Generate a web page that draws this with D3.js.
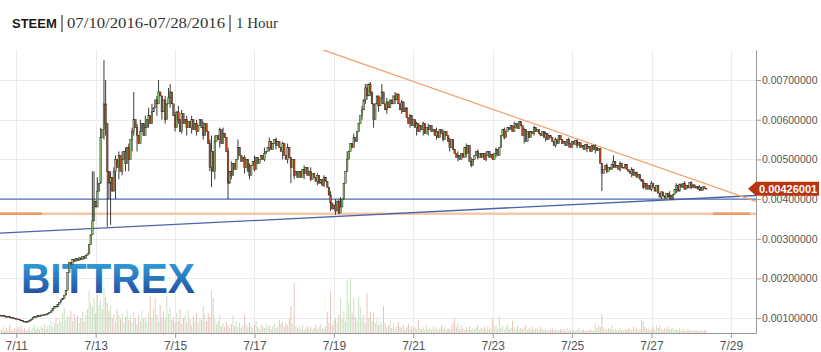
<!DOCTYPE html>
<html>
<head>
<meta charset="utf-8">
<script src="https://cdnjs.cloudflare.com/ajax/libs/d3/7.8.5/d3.min.js"></script>
<style>
body { margin: 0; background: #fff; }
svg { display: block; font-family: Arial, "Liberation Sans", sans-serif; }
</style>
</head>
<body>
<script>
var width = 821;
var height = 352;

// hourly candles, first one at 07/10/2016 14:00, closes in units of 0.00001 BTC
var firstOpen = 108;
var closes = [
    107,105,106,104,103,104,102,101,100,99,98,97,95,94,92,91,
    90,91,94,97,101,104,103,106,105,108,107,110,109,112,114,
    118,124,130,128,135,140,146,150,158,170,
    215,240,236,248,243,250,245,252,247,255,250,258,262,
    285,310,345,395,380,420,440,
    555,575,640,590,470,
    440,455,420,470,500,
    480,510,470,500,520,490,
    530,500,550,570,
    600,580,560,
    540,570,590,560,580,600,
    610,590,620,630,
    650,640,670,660,
    620,650,600,640,
    655,670,640,
    610,580,620,600,570,615,590,600,580,
    595,580,600,575,590,570,585,600,
    580,560,590,570,
    540,480,520,470,545,
    560,550,575,540,565,555,
    520,440,
    470,460,490,475,500,
    530,510,495,
    505,480,500,
    470,460,485,
    495,475,505,490,500,
    510,500,515,520,
    530,545,525,540,550,535,545,530,
    520,540,510,500,530,505,
    480,500,460,470,455,
    470,455,475,465,480,460,470,450,465,
    455,445,460,440,450,435,455,445,430,
    410,390,375,
    385,370,395,365,380,400,
    440,470,500,
    520,540,530,555,545,570,
    590,610,625,
    650,680,660,690,670,640,
    600,640,660,635,655,
    670,640,625,645,630,650,640,
    660,650,665,
    640,625,645,620,630,
    605,590,610,585,600,
    580,590,570,585,575,590,565,580,575,585,570,
    575,560,570,555,575,565,550,570,560,
    545,530,550,525,
    515,505,510,500,515,505,
    530,515,535,
    495,485,500,
    510,520,505,515,
    505,515,500,510,520,505,512,500,
    515,525,510,530,
    560,575,555,570,580,
    575,585,570,580,590,578,
    595,585,
    560,575,545,570,555,
    570,565,580,570,575,565,
    560,570,555,565,550,560,555,
    545,535,550,540,
    560,550,
    540,545,535,550,540,530,545,538,548,535,542,530,
    535,525,538,528,532,520,535,525,530,522,528,
    490,465,
    475,485,470,480,475,488,
    495,480,
    485,475,490,480,478,488,475,
    470,465,475,460,468,455,462,450,
    445,430,440,425,
    435,425,440,430,420,435,
    415,405,418,408,402,415,405,410,400,412,
    425,435,420,438,
    430,440,425,435,428,442,430,436,
    428,432,425,430,422,431,427,426
];

// wicks that reach past the bodies: [candle index, high, low]
var wicks = [
    [56, 470, 340], [57, 470, 380], [59, 455, 380], [61, 580, 440],
    [63, 750, 550], [64, 700, 560], [65, 580, 330], [66, 470, 400],
    [67, 470, 335], [69, 480, 420], [70, 510, 400], [72, 520, 450],
    [74, 520, 460], [76, 530, 470], [78, 540, 470], [80, 580, 520],
    [81, 670, 560], [83, 590, 520], [85, 600, 540], [88, 610, 560],
    [90, 630, 580], [92, 640, 600], [95, 660, 610], [96, 700, 640],
    [98, 660, 600], [100, 660, 590], [102, 680, 640], [103, 690, 630],
    [106, 620, 570], [108, 635, 590], [110, 625, 565], [113, 610, 560],
    [116, 610, 565], [119, 600, 560], [123, 595, 550], [127, 550, 470],
    [128, 560, 430], [130, 560, 450], [133, 580, 530], [135, 580, 540],
    [138, 530, 400], [140, 495, 450], [144, 550, 505], [148, 510, 465],
    [151, 490, 450], [154, 510, 470], [160, 530, 495], [163, 555, 520],
    [167, 555, 525], [171, 545, 500], [174, 540, 490], [176, 505, 440],
    [178, 500, 450], [184, 485, 450], [188, 480, 445], [192, 465, 435],
    [196, 460, 430], [200, 420, 370], [203, 400, 360], [205, 400, 362],
    [206, 405, 365], [210, 520, 470], [214, 565, 530], [219, 635, 600],
    [221, 690, 640], [222, 690, 650], [224, 695, 660], [226, 640, 580],
    [229, 660, 620], [231, 690, 640], [234, 655, 615], [239, 670, 640],
    [243, 650, 615], [248, 615, 580], [252, 595, 560], [256, 595, 560],
    [259, 590, 560], [264, 580, 550], [268, 575, 545], [272, 555, 520],
    [277, 520, 495], [282, 540, 505], [285, 505, 480], [289, 525, 500],
    [294, 520, 495], [300, 530, 505], [305, 580, 550], [311, 595, 570],
    [317, 580, 540], [323, 585, 560], [330, 570, 545], [336, 555, 530],
    [344, 555, 530], [349, 550, 528], [355, 540, 518], [360, 538, 515],
    [364, 490, 420], [367, 490, 465], [371, 510, 478], [375, 495, 470],
    [382, 480, 455], [389, 450, 425], [394, 445, 420], [400, 420, 400],
    [405, 420, 400], [409, 440, 415], [414, 445, 425], [418, 445, 425],
    [423, 435, 420]
];

var volumes = [
    4,3,6,2,5,3,8,4,2,5,3,6,4,7,3,5,2,4,6,3,5,8,4,6,3,7,5,9,4,6,
    8,12,6,10,15,9,14,11,20,25,13,18,16,22,12,19,14,17,10,15,21,12,18,24,
    42,30,26,35,20,38,28,33,24,45,36,30,
    22,27,15,19,12,24,18,14,20,10,16,22,13,17,11,21,15,9,18,12,22,14,16,10,
    20,37,15,24,35,18,12,28,16,22,14,37,19,25,13,
    16,10,20,12,24,9,15,18,11,22,14,8,17,12,20,10,15,13,27,18,12,20,16,43,35,
    14,9,12,18,7,10,6,11,8,5,9,18,7,12,6,10,5,8,18,9,6,11,7,5,8,12,6,4,9,7,5,10,6,8,4,7,9,5,6,
    13,9,12,6,10,8,14,
    27,9,50,7,5,
    6,4,8,3,5,7,4,6,3,5,8,4,6,9,4,5,7,
    21,10,42,8,12,15,10,18,35,14,22,12,53,30,55,20,35,16,12,36,26,14,18,10,40,15,21,12,20,10,14,8,12,9,27,
    10,6,8,12,5,9,4,7,11,6,5,8,3,6,9,4,7,5,6,4,
    13,5,4,6,3,8,4,5,3,7,4,6,3,5,8,4,6,3,5,4,7,10,15,6,10,4,8,5,3,6,4,7,3,5,4,6,8,3,5,4,6,3,7,4,5,
    15,6,8,4,17,5,7,3,6,9,4,5,12,6,4,7,3,5,4,6,8,3,5,4,6,3,4,5,3,6,4,3,5,2,4,3,5,3,4,2,3,4,
    3,4,2,5,3,2,4,3,2,3,5,2,3,4,2,3,2,4,3,2,10,5,8,6,19,6,4,3,5,4,8,3,4,2,3,5,3,2,4,3,5,4,3,6,4,5,3,4,
    13,11,6,4,5,3,4,6,3,8,5,8,4,3,5,4,6,3,4,5,3,4,3,5,2,4,3,2,4,3,2,3,2,3,2,2,3,2,3,2
];

var yTicks = [0.001, 0.002, 0.003, 0.004, 0.005, 0.006, 0.007];
var lastPrice = 0.00426001;
var blueLevel = 0.004;
var orangeLevel = 0.00363;
var risingTrend = [[new Date(2016, 6, 10, 14, 9), 0.00314], [new Date(2016, 6, 29, 15, 10), 0.00409]];
var fallingTrend = [[new Date(2016, 6, 18, 17, 24), 0.00776], [new Date(2016, 6, 29, 15, 10), 0.00394]];

var plot = { left: 0, right: 756, top: 50, bottom: 333 };

var svg = d3.select('body').append('svg').attr('width', width).attr('height', height);

var x = d3.scaleTime()
    .domain([new Date(2016, 6, 10, 14, 9), new Date(2016, 6, 29, 15, 10)])
    .range([plot.left, plot.right]);
var y = d3.scaleLinear()
    .domain([0.000625, 0.007757])
    .range([plot.bottom, plot.top]);
var yVol = d3.scaleLinear().domain([0, 60]).range([plot.bottom, plot.bottom - 60]);

var candles = closes.map(function (c, i) {
    var o = i === 0 ? firstOpen : closes[i - 1];
    return {
        date: new Date(2016, 6, 10, 14 + i),
        open: o / 1e5,
        close: c / 1e5,
        high: Math.max(o, c) / 1e5,
        low: Math.min(o, c) / 1e5,
        volume: volumes[i] || 0
    };
});
wicks.forEach(function (w) {
    var d = candles[w[0]];
    d.high = Math.max(d.high, w[1] / 1e5);
    d.low = Math.min(d.low, w[2] / 1e5);
});

var defs = svg.append('defs');
defs.append('clipPath').attr('id', 'plotclip').append('rect')
    .attr('x', plot.left).attr('y', plot.top)
    .attr('width', plot.right - plot.left).attr('height', plot.bottom - plot.top);
var grad = defs.append('linearGradient').attr('id', 'logograd')
    .attr('x1', 0).attr('y1', 0).attr('x2', 0).attr('y2', 1);
grad.append('stop').attr('offset', '0%').attr('stop-color', '#35aee6');
grad.append('stop').attr('offset', '100%').attr('stop-color', '#1c3f95');

// title
svg.append('text').attr('x', 12).attr('y', 28)
    .style('font-size', '13px').style('font-weight', 'bold').attr('fill', '#1a1a1a')
    .text('STEEM');
svg.append('rect').attr('x', 61).attr('y', 15).attr('width', 2).attr('height', 17).attr('fill', '#8a8a8a');
svg.append('text').attr('x', 67).attr('y', 28)
    .attr('textLength', 158).attr('lengthAdjust', 'spacingAndGlyphs')
    .style('font-family', 'Georgia, "Liberation Serif", serif').style('font-size', '15px').attr('fill', '#333')
    .text('07/10/2016-07/28/2016');
svg.append('rect').attr('x', 229).attr('y', 15).attr('width', 2).attr('height', 17).attr('fill', '#8a8a8a');
svg.append('text').attr('x', 236).attr('y', 28)
    .style('font-family', 'Georgia, "Liberation Serif", serif').style('font-size', '15px').attr('fill', '#333')
    .text('1 Hour');

// grid
svg.append('g').selectAll('line').data(yTicks).enter().append('line')
    .attr('x1', plot.left).attr('x2', plot.right)
    .attr('y1', function (d) { return Math.round(y(d)) + 0.5; })
    .attr('y2', function (d) { return Math.round(y(d)) + 0.5; })
    .attr('stroke', '#ebebeb');
svg.append('g').selectAll('line').data(x.ticks(d3.timeDay.every(2))).enter().append('line')
    .attr('x1', function (d) { return Math.round(x(d)) + 0.5; })
    .attr('x2', function (d) { return Math.round(x(d)) + 0.5; })
    .attr('y1', plot.top).attr('y2', plot.bottom)
    .attr('stroke', '#ebebeb');

// watermark
svg.append('text').attr('x', 21).attr('y', 293)
    .attr('textLength', 174).attr('lengthAdjust', 'spacingAndGlyphs')
    .style('font-size', '42px').style('font-weight', 'bold')
    .attr('fill', 'url(#logograd)')
    .text('BITTREX');

var chart = svg.append('g').attr('clip-path', 'url(#plotclip)');

// volume
chart.append('g').selectAll('rect').data(candles).enter().append('rect')
    .attr('x', function (d) { return x(d.date) - 0.5; })
    .attr('width', 1)
    .attr('y', function (d) { return yVol(d.volume); })
    .attr('height', function (d) { return plot.bottom - yVol(d.volume); })
    .attr('fill', function (d) { return d.close >= d.open ? '#b9d8ad' : '#e2b1a6'; })
    .attr('opacity', 0.75);

// levels and trend lines
var line = d3.line()
    .x(function (d) { return x(d[0]); })
    .y(function (d) { return y(d[1]); });
chart.append('line')
    .attr('x1', plot.left).attr('x2', plot.right)
    .attr('y1', y(orangeLevel)).attr('y2', y(orangeLevel))
    .attr('stroke', '#f6c8a8').attr('stroke-width', 2.5);
chart.append('line')
    .attr('x1', plot.left).attr('x2', 42)
    .attr('y1', y(orangeLevel)).attr('y2', y(orangeLevel))
    .attr('stroke', '#ee9a62').attr('stroke-width', 2.5);
chart.append('line')
    .attr('x1', 713).attr('x2', 750)
    .attr('y1', y(orangeLevel)).attr('y2', y(orangeLevel))
    .attr('stroke', '#ee9a62').attr('stroke-width', 2.5);
chart.append('line')
    .attr('x1', plot.left).attr('x2', plot.right)
    .attr('y1', y(blueLevel)).attr('y2', y(blueLevel))
    .attr('stroke', '#5572b3').attr('stroke-width', 1.3);
chart.append('path').datum(risingTrend).attr('d', line)
    .attr('fill', 'none').attr('stroke', '#4a64a8').attr('stroke-width', 1.3);
chart.append('path').datum(fallingTrend).attr('d', line)
    .attr('fill', 'none').attr('stroke', '#f0a06a').attr('stroke-width', 1.3);

// candles
var cg = chart.append('g');
cg.selectAll('line').data(candles).enter().append('line')
    .attr('x1', function (d) { return x(d.date); })
    .attr('x2', function (d) { return x(d.date); })
    .attr('y1', function (d) { return y(d.high); })
    .attr('y2', function (d) { return y(d.low); })
    .attr('stroke', '#262626').attr('stroke-width', 0.9);
cg.selectAll('rect').data(candles).enter().append('rect')
    .attr('x', function (d) { return x(d.date) - 0.8; })
    .attr('width', 1.6)
    .attr('y', function (d) { return y(Math.max(d.open, d.close)); })
    .attr('height', function (d) { return Math.max(0.8, Math.abs(y(d.open) - y(d.close))); })
    .attr('fill', function (d) { return d.close >= d.open ? '#8cbf6c' : '#c2461f'; })
    .attr('stroke', '#2a2a2a').attr('stroke-width', 0.45);

// axes
var yAxis = svg.append('g').attr('transform', 'translate(' + plot.right + ',0)')
    .call(d3.axisRight(y).tickValues(yTicks).tickFormat(d3.format('.8f')).tickSize(5).tickSizeOuter(0));
var xAxis = svg.append('g').attr('transform', 'translate(0,' + plot.bottom + ')')
    .call(d3.axisBottom(x).ticks(d3.timeDay.every(2)).tickFormat(d3.timeFormat('%-m/%-d')).tickSize(5).tickSizeOuter(0));
[yAxis, xAxis].forEach(function (a) {
    a.select('.domain').attr('stroke', '#9a9a9a');
    a.selectAll('.tick line').attr('stroke', '#9a9a9a');
    a.selectAll('.tick text').attr('fill', '#555').style('font-family', 'Arial, "Liberation Sans", sans-serif');
});
yAxis.selectAll('.tick text').style('font-size', '10.5px').attr('x', 6);
xAxis.selectAll('.tick text').style('font-size', '12px').attr('y', 8);

// last price tag
var ty = y(lastPrice);
svg.append('path')
    .attr('d', 'M748,' + ty + 'L756,' + (ty - 7) + 'L819,' + (ty - 7) + 'L819,' + (ty + 7) + 'L756,' + (ty + 7) + 'Z')
    .attr('fill', '#b9340f');
svg.append('text').attr('x', 759).attr('y', ty + 4)
    .style('font-size', '11px').style('font-weight', 'bold').attr('fill', '#fff')
    .text(d3.format('.8f')(lastPrice));
</script>
</body>
</html>
